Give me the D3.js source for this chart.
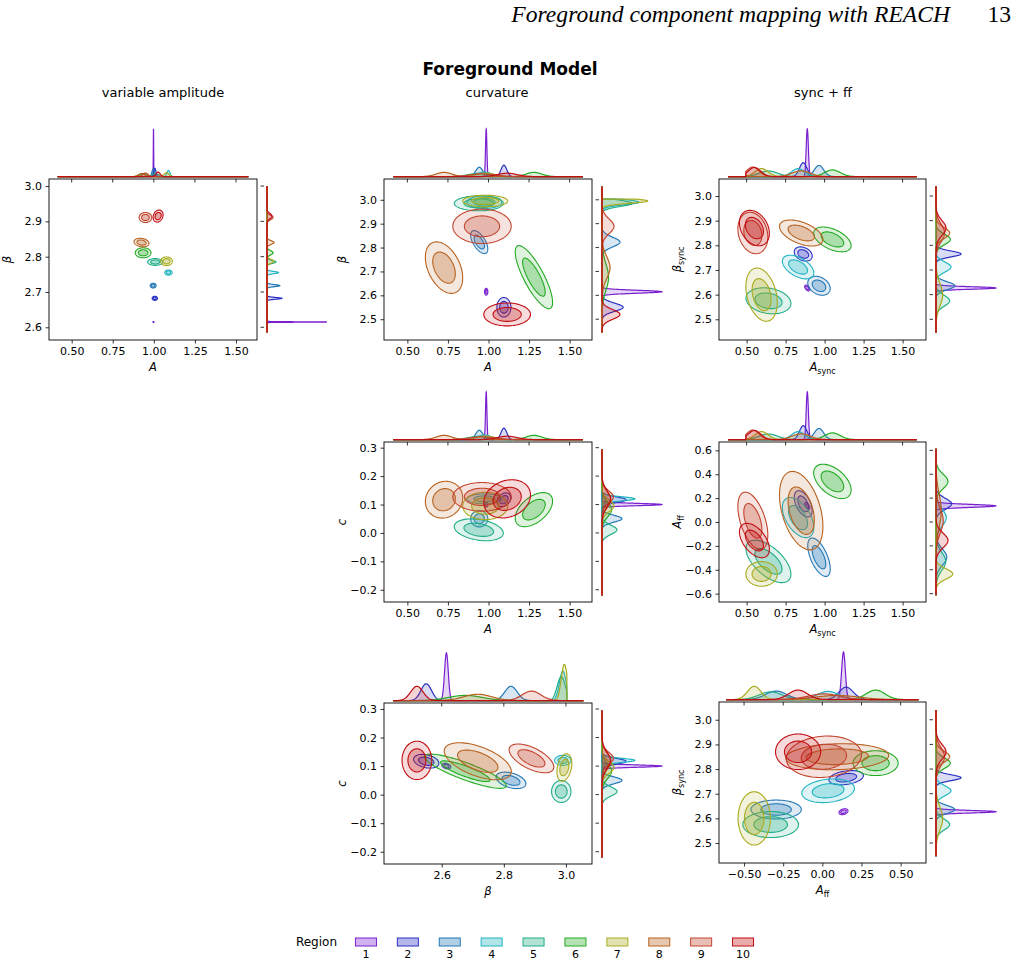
<!DOCTYPE html>
<html><head><meta charset="utf-8">
<script src="https://cdn.jsdelivr.net/npm/d3@7"></script>
<style>
body{margin:0;background:#fff;}
text{font-family:"DejaVu Sans",sans-serif;fill:#000;}
</style></head><body>
<div id="chart"></div>
<script>
var regions = ["1","2","3","4","5","6","7","8","9","10"];
var regionColors = ["#7a1fd0","#2b30c2","#2277b5","#20b4c2","#20ad88","#24ab24","#a9ab1e","#b8621f","#c2452e","#c20d12"];

// variable amplitude model: A, beta
var vaA_mean = [0.998, 1.006, 0.996, 1.089, 1.008, 0.935, 1.077, 0.925, 0.949, 1.026];
var vaA_sd = [0.0012, 0.0068, 0.0076, 0.0093, 0.019, 0.02, 0.015, 0.019, 0.016, 0.0127];
var vaBeta_mean = [2.615, 2.682, 2.718, 2.755, 2.785, 2.811, 2.787, 2.84, 2.911, 2.915];
var vaBeta_sd = [0.0006, 0.0024, 0.0028, 0.0031, 0.004, 0.0059, 0.0051, 0.0051, 0.0059, 0.0071];
var vaRho_A_beta = [0, 0, 0, 0, 0, 0, 0, -0.2, 0, 0.2];

// curvature model: A, beta, c
var cvA_mean = [0.986, 1.095, 0.943, 0.975, 0.94, 1.28, 0.98, 0.726, 0.96, 1.115];
var cvA_sd = [0.0043, 0.018, 0.022, 0.045, 0.063, 0.048, 0.058, 0.048, 0.075, 0.06];
var cvBeta_mean = [2.615, 2.55, 2.823, 2.99, 2.985, 2.676, 2.995, 2.716, 2.889, 2.52];
var cvBeta_sd = [0.006, 0.017, 0.02, 0.011, 0.013, 0.055, 0.01, 0.045, 0.03, 0.02];
var cvC_mean = [0.1, 0.117, 0.05, 0.12, 0.011, 0.082, 0.095, 0.117, 0.127, 0.12];
var cvC_sd = [0.004, 0.01, 0.012, 0.0073, 0.016, 0.025, 0.02, 0.027, 0.021, 0.028];
var cvRho_A_beta = [0, 0, -0.6, 0, 0, -0.8, 0, -0.4, 0, 0];
var cvRho_A_c = [0, 0.3, 0, 0, -0.3, 0.5, 0, 0.1, 0, 0.2];
var cvRho_beta_c = [-0.3, -0.3, -0.4, 0, 0, -0.85, 0.3, -0.55, -0.6, 0];

// sync + ff model: A_sync, beta_sync, A_ff
var sfAsync_mean = [0.889, 0.863, 0.964, 0.83, 0.64, 1.05, 0.596, 0.85, 0.54, 0.55];
var sfAsync_sd = [0.007, 0.024, 0.03, 0.042, 0.06, 0.05, 0.042, 0.058, 0.04, 0.04];
var sfBeta_mean = [2.627, 2.765, 2.636, 2.712, 2.575, 2.824, 2.6, 2.85, 2.85, 2.87];
var sfBeta_sd = [0.005, 0.012, 0.016, 0.02, 0.022, 0.021, 0.045, 0.022, 0.035, 0.03];
var sfAff_mean = [0.135, 0.152, -0.295, 0.037, -0.33, 0.34, -0.435, 0.095, 0.01, -0.155];
var sfAff_sd = [0.012, 0.046, 0.067, 0.07, 0.074, 0.06, 0.043, 0.137, 0.1, 0.06];
var sfRho_Async_beta = [-0.5, -0.3, -0.3, -0.5, -0.2, -0.5, -0.3, -0.5, -0.2, -0.3];
var sfRho_Async_Aff = [-0.6, -0.5, -0.6, -0.5, -0.6, -0.5, 0, -0.4, -0.5, -0.5];
var sfRho_Aff_beta = [0.3, 0.3, 0, 0.2, 0, 0, 0, 0.1, 0.1, 0];

// tick values
var ticksA = [0.5, 0.75, 1.0, 1.25, 1.5];
var ticksBetaVA = [2.6, 2.7, 2.8, 2.9, 3.0];
var ticksBeta = [2.5, 2.6, 2.7, 2.8, 2.9, 3.0];
var ticksBetaX = [2.6, 2.8, 3.0];
var ticksC = [-0.2, -0.1, 0.0, 0.1, 0.2, 0.3];
var ticksAff = [-0.6, -0.4, -0.2, 0.0, 0.2, 0.4, 0.6];
var ticksAffX = [-0.5, -0.25, 0.0, 0.25, 0.5];

var W = 1015, H = 965;
var svg = d3.select("#chart").append("svg").attr("width", W).attr("height", H);

function normCdf(z) {
    if (!isFinite(z)) return z > 0 ? 1 : 0;
    var x = Math.abs(z) / Math.SQRT2;
    var t = 1 / (1 + 0.3275911 * x);
    var y = 1 - (((((1.061405429 * t - 1.453152027) * t) + 1.421413741) * t - 0.284496736) * t + 0.254829592) * t * Math.exp(-x * x);
    return z >= 0 ? 0.5 * (1 + y) : 0.5 * (1 - y);
}

function param(mean, sd, range, lo, hi) {
    return { mean: mean, sd: sd, range: range, lo: lo == null ? -Infinity : lo, hi: hi == null ? Infinity : hi };
}

var P = {
    vaA: param(vaA_mean, vaA_sd, [0.415, 1.575]),
    vaBeta: param(vaBeta_mean, vaBeta_sd, [2.585, 3.0]),
    cvA: param(cvA_mean, cvA_sd, [0.414, 1.582]),
    cvBeta: param(cvBeta_mean, cvBeta_sd, [2.444, 3.056], null, 3.003),
    cvC: param(cvC_mean, cvC_sd, [-0.22, 0.296]),
    sfAsync: param(sfAsync_mean, sfAsync_sd, [0.382, 1.594], 0.495, null),
    sfBeta: param(sfBeta_mean, sfBeta_sd, [2.446, 3.04]),
    sfAff: param(sfAff_mean, sfAff_sd, [-0.614, 0.614])
};

// marginal density curve for one region
function densityCurve(p, i) {
    var m = p.mean[i], s = p.sd[i];
    var Z = normCdf((p.hi - m) / s) - normCdf((p.lo - m) / s);
    var xs = d3.range(0, 401).map(function(j) { return p.range[0] + (p.range[1] - p.range[0]) * j / 400; });
    d3.range(-60, 61).forEach(function(j) { xs.push(m + s * j / 12); });
    if (isFinite(p.hi)) xs.push(p.hi, p.hi + 1e-6);
    if (isFinite(p.lo)) xs.push(p.lo, p.lo - 1e-6);
    xs = xs.filter(function(x) { return x >= p.range[0] && x <= p.range[1]; }).sort(d3.ascending);
    return xs.map(function(x) {
        var d = (x < p.lo || x > p.hi) ? 0 : Math.exp(-0.5 * Math.pow((x - m) / s, 2)) / (s * Math.sqrt(2 * Math.PI)) / Z;
        return [x, d];
    });
}

function ellipsePts(mx, my, sx, sy, rho, k) {
    var c = Math.sqrt(1 - rho * rho);
    return d3.range(0, 90).map(function(j) {
        var t = j / 90 * 2 * Math.PI;
        return [mx + k * sx * Math.cos(t), my + k * sy * (rho * Math.cos(t) + c * Math.sin(t))];
    });
}

var labA = [["A", "i"]];
var labBeta = [["β", "i"]];
var labC = [["c", "i"]];
var labAsync = [["A", "i"], ["sync", "s"]];
var labBsync = [["β", "i"], ["sync", "s"]];
var labAff = [["A", "i"], ["ff", "s"]];

var panels = [
    { px: "vaA", py: "vaBeta", rho: vaRho_A_beta, box: [49, 179, 257, 340], xDom: [0.362, 1.628], yDom: [2.564, 3.02],
      xTicks: ticksA, yTicks: ticksBetaVA, xFmt: ".2f", yFmt: ".1f", xLab: labA, yLab: labBeta },
    { px: "cvA", py: "cvBeta", rho: cvRho_A_beta, box: [384, 179, 592, 340], xDom: [0.356, 1.638], yDom: [2.413, 3.087],
      xTicks: ticksA, yTicks: ticksBeta, xFmt: ".2f", yFmt: ".1f", xLab: labA, yLab: labBeta },
    { px: "sfAsync", py: "sfBeta", rho: sfRho_Async_beta, box: [719, 179, 926, 340], xDom: [0.323, 1.65], yDom: [2.416, 3.069],
      xTicks: ticksA, yTicks: ticksBeta, xFmt: ".2f", yFmt: ".1f", xLab: labAsync, yLab: labBsync },
    { px: "cvA", py: "cvC", rho: cvRho_A_c, box: [384, 442, 592, 602], xDom: [0.356, 1.638], yDom: [-0.243, 0.32],
      xTicks: ticksA, yTicks: ticksC, xFmt: ".2f", yFmt: ".1f", xLab: labA, yLab: labC },
    { px: "sfAsync", py: "sfAff", rho: sfRho_Async_Aff, box: [719, 442, 926, 602], xDom: [0.323, 1.65], yDom: [-0.67, 0.67],
      xTicks: ticksA, yTicks: ticksAff, xFmt: ".2f", yFmt: ".1f", xLab: labAsync, yLab: labAff },
    { px: "cvBeta", py: "cvC", rho: cvRho_beta_c, box: [384, 703, 592, 864], xDom: [2.414, 3.084], yDom: [-0.243, 0.321],
      xTicks: ticksBetaX, yTicks: ticksC, xFmt: ".1f", yFmt: ".1f", xLab: labBeta, yLab: labC },
    { px: "sfAff", py: "sfBeta", rho: sfRho_Aff_beta, box: [719, 702, 926, 863], xDom: [-0.66, 0.662], yDom: [2.419, 3.072],
      xTicks: ticksAffX, yTicks: ticksBeta, xFmt: ".2f", yFmt: ".1f", xLab: labAff, yLab: labBsync }
];

var kOuter = 2.4, kInner = 1.45;

function addLabel(sel, parts) {
    parts.forEach(function(p) {
        if (p[1] === "i") sel.append("tspan").attr("font-style", "italic").text(p[0]);
        else sel.append("tspan").attr("font-size", "8px").attr("dy", 3).text(p[0]);
    });
}

panels.forEach(function(pn, pi) {
    var L = pn.box[0], T = pn.box[1], R = pn.box[2], B = pn.box[3];
    var x = d3.scaleLinear().domain(pn.xDom).range([L, R]);
    var y = d3.scaleLinear().domain(pn.yDom).range([B, T]);
    var px = P[pn.px], py = P[pn.py];

    var clipId = "clip" + pi;
    svg.append("clipPath").attr("id", clipId).append("rect")
        .attr("x", L).attr("y", T).attr("width", R - L).attr("height", B - T);

    var g = svg.append("g").attr("clip-path", "url(#" + clipId + ")");
    var line = d3.line().x(function(d) { return x(d[0]); }).y(function(d) { return y(d[1]); }).curve(d3.curveLinearClosed);

    regions.forEach(function(r, i) {
        var col = regionColors[i];
        [kOuter, kInner].forEach(function(k, ki) {
            g.append("path")
                .attr("d", line(ellipsePts(px.mean[i], py.mean[i], px.sd[i], py.sd[i], pn.rho[i], k)))
                .attr("fill", col).attr("fill-opacity", ki === 0 ? 0.15 : 0.28)
                .attr("stroke", col).attr("stroke-width", 1.1);
        });
    });

    // frame
    svg.append("rect").attr("x", L).attr("y", T).attr("width", R - L).attr("height", B - T)
        .attr("fill", "none").attr("stroke", "#000").attr("stroke-width", 0.9);

    // axes
    var xa = svg.append("g").attr("transform", "translate(0," + B + ")")
        .call(d3.axisBottom(x).tickValues(pn.xTicks).tickSize(3.5).tickPadding(3.5).tickFormat(d3.format(pn.xFmt)));
    var ya = svg.append("g").attr("transform", "translate(" + L + ",0)")
        .call(d3.axisLeft(y).tickValues(pn.yTicks).tickSize(3.5).tickPadding(3.5).tickFormat(d3.format(pn.yFmt)));
    [xa, ya].forEach(function(a) {
        a.select(".domain").remove();
        a.selectAll("text").attr("font-size", "11px").attr("font-family", "DejaVu Sans");
        a.selectAll("line").attr("stroke", "#000").attr("stroke-width", 0.8);
    });

    var xl = svg.append("text").attr("x", (L + R) / 2).attr("y", B + 31).attr("text-anchor", "middle").attr("font-size", "11.5px");
    addLabel(xl, pn.xLab);
    var yl = svg.append("text").attr("transform", "translate(" + (L - 38) + "," + ((T + B) / 2) + ") rotate(-90)")
        .attr("text-anchor", "middle").attr("font-size", "11.5px");
    addLabel(yl, pn.yLab);

    // top marginal
    var topCurves = regions.map(function(r, i) { return densityCurve(px, i); });
    var topMax = d3.max(topCurves, function(c) { return d3.max(c, function(d) { return d[1]; }); });
    var ty = d3.scaleLinear().domain([-0.05 * topMax, 1.05 * topMax]).range([T, T - 52.5]);
    var tArea = d3.area().x(function(d) { return x(d[0]); }).y0(ty(0)).y1(function(d) { return ty(d[1]); });
    var tLine = d3.line().x(function(d) { return x(d[0]); }).y(function(d) { return ty(d[1]); });
    topCurves.forEach(function(c, i) {
        svg.append("path").attr("d", tArea(c)).attr("fill", regionColors[i]).attr("fill-opacity", 0.18);
        svg.append("path").attr("d", tLine(c)).attr("fill", "none").attr("stroke", regionColors[i]).attr("stroke-width", 1.2);
    });
    svg.selectAll(null).data(pn.xTicks).enter().append("line")
        .attr("x1", function(d) { return x(d); }).attr("x2", function(d) { return x(d); })
        .attr("y1", T).attr("y2", T + 3.5).attr("stroke", "#000").attr("stroke-width", 0.8);

    // right marginal
    var rightCurves = regions.map(function(r, i) { return densityCurve(py, i); });
    var rMax = d3.max(rightCurves, function(c) { return d3.max(c, function(d) { return d[1]; }); });
    var mL = R + 7;
    var rx = d3.scaleLinear().domain([-0.05 * rMax, 1.05 * rMax]).range([mL, mL + 66]);
    var rArea = d3.area().y(function(d) { return y(d[0]); }).x0(rx(0)).x1(function(d) { return rx(d[1]); });
    var rLine = d3.line().y(function(d) { return y(d[0]); }).x(function(d) { return rx(d[1]); });
    rightCurves.forEach(function(c, i) {
        svg.append("path").attr("d", rArea(c)).attr("fill", regionColors[i]).attr("fill-opacity", 0.18);
        svg.append("path").attr("d", rLine(c)).attr("fill", "none").attr("stroke", regionColors[i]).attr("stroke-width", 1.2);
    });
    svg.selectAll(null).data(pn.yTicks).enter().append("line")
        .attr("y1", function(d) { return y(d); }).attr("y2", function(d) { return y(d); })
        .attr("x1", mL - 3.5).attr("x2", mL).attr("stroke", "#000").attr("stroke-width", 0.8);
});

// titles
svg.append("text").attr("x", 510).attr("y", 75).attr("text-anchor", "middle")
    .attr("font-size", "17px").attr("font-weight", "bold").text("Foreground Model");
var colTitles = [["variable amplitude", 163], ["curvature", 497], ["sync + ff", 823]];
colTitles.forEach(function(t) {
    svg.append("text").attr("x", t[1]).attr("y", 97).attr("text-anchor", "middle").attr("font-size", "13px").text(t[0]);
});

// page header
svg.append("text").attr("x", 950).attr("y", 22).attr("text-anchor", "end")
    .style("font-family", "'Liberation Serif', 'DejaVu Serif', serif").attr("font-style", "italic")
    .attr("font-size", "23.6px").text("Foreground component mapping with REACH");
svg.append("text").attr("x", 1011).attr("y", 22).attr("text-anchor", "end")
    .style("font-family", "'Liberation Serif', 'DejaVu Serif', serif")
    .attr("font-size", "23.6px").text("13");

// legend
svg.append("text").attr("x", 337).attr("y", 946).attr("text-anchor", "end").attr("font-size", "12px").text("Region");
var lx = d3.scaleBand().domain(regions).range([345, 764]);
var leg = svg.selectAll(".leg").data(regions).enter().append("g");
leg.append("rect")
    .attr("x", function(d) { return lx(d) + lx.bandwidth() / 2 - 10.5; }).attr("y", 938)
    .attr("width", 21).attr("height", 8)
    .attr("fill", function(d, i) { return regionColors[i]; }).attr("fill-opacity", 0.35)
    .attr("stroke", function(d, i) { return regionColors[i]; }).attr("stroke-width", 1);
leg.append("text")
    .attr("x", function(d) { return lx(d) + lx.bandwidth() / 2; }).attr("y", 958)
    .attr("text-anchor", "middle").attr("font-size", "11px").text(function(d) { return d; });
</script>
</body></html>
